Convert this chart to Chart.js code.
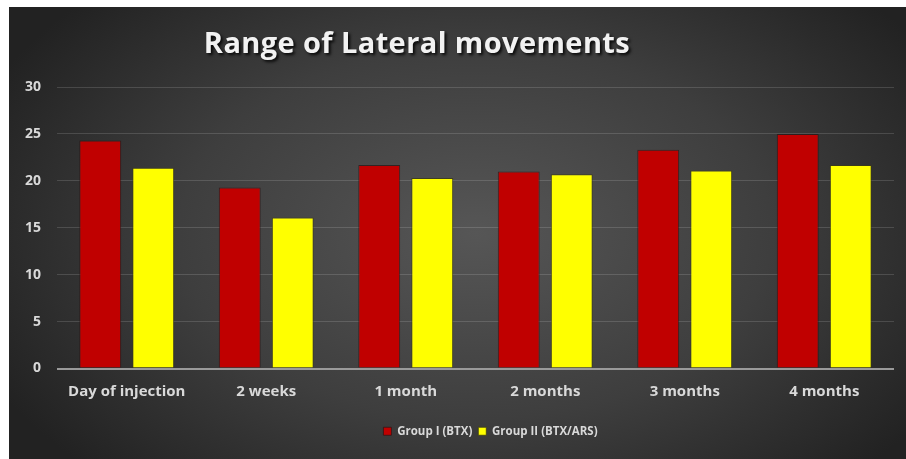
<!DOCTYPE html>
<html>
<head>
<meta charset="utf-8">
<script src="https://cdn.jsdelivr.net/npm/chart.js@4.4.0/dist/chart.umd.min.js"></script>
<style>
    html, body { margin: 0; padding: 0; background: #fff; }
    #panel {
        position: absolute; left: 9px; top: 7px; width: 897px; height: 452px;
        background: radial-gradient(ellipse 60% 75% at 52% 50%, #565656 0%, #3e3e3e 55%, #222 100%);
    }
    #title {
        position: absolute; left: 158px; top: 20px; width: 500px; text-align: center;
        font: bold 29px/29px 'Open Sans', sans-serif; color: #f2f2f2;
        text-shadow: 2px 2px 3px rgba(0, 0, 0, 0.85);
        letter-spacing: 0.4px;
    }
    #wrap { position: absolute; left: 0; top: 0; width: 897px; height: 452px; }
</style>
</head>
<body>
<div id="panel">
    <div id="wrap"><canvas id="chart"></canvas></div>
    <div id="title">Range of Lateral movements</div>
</div>
<script>
const categories = ['Day of injection', '2 weeks', '1 month', '2 months', '3 months', '4 months'];
const groupOne = [24.3, 19.3, 21.7, 21.0, 23.3, 25.0];
const groupTwo = [21.4, 16.1, 20.3, 20.7, 21.1, 21.7];
const seriesNames = ['Group I (BTX)', 'Group II (BTX/ARS)'];
const yTicks = [0, 5, 10, 15, 20, 25, 30];

const tickColor = '#d9d9d9';

// legend sits a bit right of centre in the original
const shiftLegend = {
    id: 'shiftLegend',
    afterLayout(chart) {
        const lg = chart.legend;
        if (!lg) return;
        lg.left += 39;
        lg.right += 39;
    }
};

new Chart(document.getElementById('chart'), {
    type: 'bar',
    data: {
        labels: categories,
        datasets: [
            {
                label: seriesNames[0],
                data: groupOne,
                backgroundColor: '#c00000',
                borderColor: 'rgba(40, 20, 20, 0.7)',
                borderWidth: 1,
                barPercentage: 0.79,
                categoryPercentage: 0.76
            },
            {
                label: seriesNames[1],
                data: groupTwo,
                backgroundColor: '#ffff00',
                borderColor: 'rgba(60, 60, 20, 0.8)',
                borderWidth: 1,
                barPercentage: 0.79,
                categoryPercentage: 0.76
            }
        ]
    },
    plugins: [shiftLegend],
    options: {
        responsive: true,
        maintainAspectRatio: false,
        animation: false,
        layout: { padding: { top: 80, right: 12, bottom: 12, left: 0 } },
        plugins: {
            title: { display: false },
            tooltip: { enabled: false },
            legend: {
                position: 'bottom',
                labels: {
                    color: tickColor,
                    font: { family: "'Open Sans', sans-serif", size: 11.5, weight: 'bold' },
                    boxWidth: 8,
                    boxHeight: 8,
                    padding: 6
                }
            }
        },
        scales: {
            x: {
                grid: { display: false },
                border: { display: false },
                ticks: {
                    color: tickColor,
                    padding: 6,
                    maxRotation: 0,
                    font: { family: "'Open Sans', sans-serif", size: 15, weight: 'bold' }
                },
                afterFit: s => { s.height = 51; }
            },
            y: {
                min: 0,
                max: 30,
                afterBuildTicks: s => { s.ticks = yTicks.map(v => ({ value: v })); },
                border: { display: false },
                grid: {
                    drawTicks: false,
                    color: c => c.tick.value === 0 ? '#9a9a9a' : 'rgba(255, 255, 255, 0.14)',
                    lineWidth: c => c.tick.value === 0 ? 2 : 1
                },
                ticks: {
                    color: tickColor,
                    padding: 16,
                    font: { family: "'Open Sans', sans-serif", size: 14, weight: 'bold' }
                },
                afterFit: s => { s.width = 48; }
            }
        }
    }
});
</script>
</body>
</html>
